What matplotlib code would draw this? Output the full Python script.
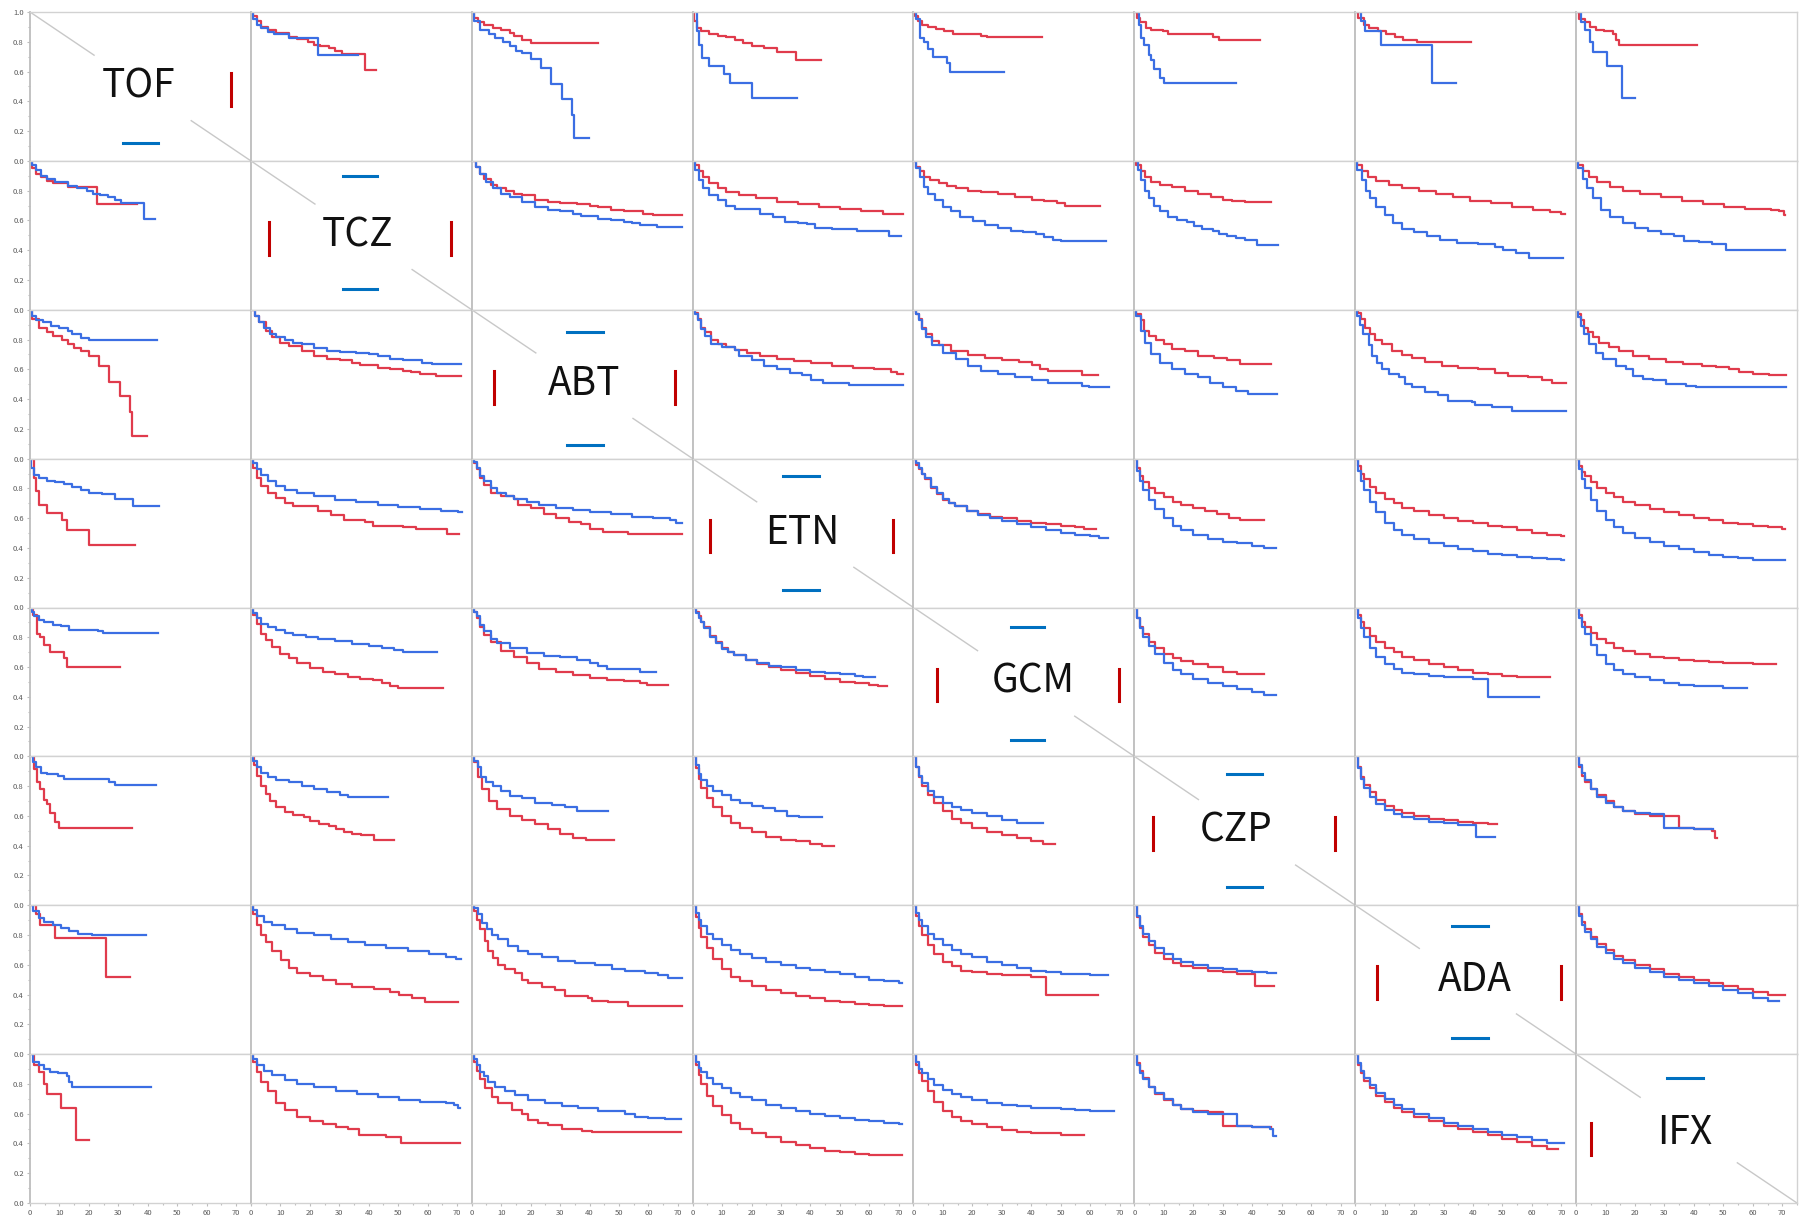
import matplotlib
matplotlib.use("Agg")
import matplotlib.pyplot as plt
from matplotlib.ticker import MultipleLocator

plt.rcParams['font.family'] = ['Noto Sans CJK JP', 'DejaVu Sans']

drugs = ["TOF", "TCZ", "ABT", "ETN", "GCM", "CZP", "ADA", "IFX"]

# Drug retention (Kaplan-Meier) for every head-to-head pair.
# <a>_<b>_t / <a>_<b>_s : months and retention of drug a in the a-vs-b match.
# The last entry marks the end of follow-up.

# ---- TOF
tof_tcz_t = [0, 0.7, 2.1, 3.6, 5.7, 8.6, 12.9, 15.8, 19.3, 21.5, 23.6, 26.5, 28.7, 30.8, 38.7, 42.5]
tof_tcz_s = [1.0, 0.97, 0.94, 0.90, 0.88, 0.86, 0.83, 0.82, 0.80, 0.78, 0.77, 0.76, 0.74, 0.72, 0.61, 0.61]
tcz_tof_t = [0, 0.7, 2.1, 3.6, 5.7, 7.9, 12.9, 22.9, 36.5]
tcz_tof_s = [1.0, 0.95, 0.915, 0.89, 0.865, 0.85, 0.825, 0.71, 0.71]

tof_abt_t = [0, 0.7, 2.1, 4.3, 7.2, 10.0, 12.9, 14.3, 17.2, 20.0, 43.0]
tof_abt_s = [1.0, 0.96, 0.93, 0.915, 0.89, 0.88, 0.86, 0.84, 0.81, 0.795, 0.795]
abt_tof_t = [0, 0.7, 2.9, 5.7, 7.9, 10.7, 12.9, 15.0, 17.2, 20.1, 23.4, 26.9, 30.5, 34.1, 34.8, 39.8]
abt_tof_s = [1.0, 0.94, 0.88, 0.85, 0.825, 0.80, 0.77, 0.74, 0.725, 0.687, 0.624, 0.517, 0.418, 0.311, 0.154, 0.154]

tof_etn_t = [0, 0.4, 1.4, 2.9, 5.7, 8.6, 11.5, 14.3, 17.2, 20.1, 24.4, 28.7, 35.1, 43.7]
tof_etn_s = [1.0, 0.94, 0.89, 0.87, 0.85, 0.84, 0.83, 0.81, 0.79, 0.77, 0.76, 0.73, 0.68, 0.68]
etn_tof_t = [0, 1.4, 2.1, 3.2, 5.7, 10.7, 12.6, 20.1, 35.5]
etn_tof_s = [1.0, 0.87, 0.78, 0.69, 0.635, 0.585, 0.52, 0.42, 0.42]

tof_gcm_t = [0, 0.6, 1.5, 2.9, 4.8, 7.7, 10.5, 13.4, 23.0, 24.9, 43.5]
tof_gcm_s = [1.0, 0.97, 0.94, 0.915, 0.90, 0.885, 0.875, 0.85, 0.84, 0.83, 0.83]
gcm_tof_t = [0, 0.9, 2.3, 3.4, 4.8, 6.7, 11.5, 12.5, 30.6]
gcm_tof_s = [1.0, 0.95, 0.825, 0.80, 0.75, 0.70, 0.66, 0.60, 0.60]

tof_czp_t = [0, 1.0, 1.9, 3.8, 5.7, 9.6, 11.5, 26.8, 28.7, 42.7]
tof_czp_s = [1.0, 0.96, 0.93, 0.89, 0.88, 0.87, 0.85, 0.83, 0.81, 0.81]
czp_tof_t = [0, 1.5, 2.3, 3.4, 4.8, 5.7, 6.7, 8.6, 10.0, 34.5]
czp_tof_s = [1.0, 0.915, 0.825, 0.78, 0.71, 0.68, 0.62, 0.56, 0.52, 0.52]

tof_ada_t = [0, 1.0, 2.9, 4.8, 7.7, 10.5, 13.4, 16.3, 21.1, 39.3]
tof_ada_s = [1.0, 0.96, 0.915, 0.89, 0.87, 0.85, 0.83, 0.81, 0.80, 0.80]
ada_tof_t = [0, 1.9, 3.4, 8.6, 25.9, 34.1]
ada_tof_s = [1.0, 0.94, 0.87, 0.78, 0.52, 0.52]

tof_ifx_t = [0, 1.0, 2.9, 4.8, 6.7, 9.6, 12.5, 13.4, 14.4, 41.2]
tof_ifx_s = [1.0, 0.95, 0.93, 0.90, 0.88, 0.87, 0.85, 0.81, 0.78, 0.78]
ifx_tof_t = [0, 1.5, 2.9, 4.8, 5.7, 10.5, 15.7, 20.1]
ifx_tof_s = [1.0, 0.93, 0.88, 0.80, 0.73, 0.635, 0.42, 0.42]

# ---- TCZ
tcz_abt_t = [0, 1.4, 2.9, 4.3, 6.4, 8.6, 11.5, 14.3, 17.2, 21.5, 25.8, 30.1, 35.8, 40.1, 43.0, 47.3, 51.6, 58.0, 61.6, 71.3]
tcz_abt_s = [1.0, 0.96, 0.915, 0.88, 0.84, 0.815, 0.80, 0.78, 0.77, 0.74, 0.725, 0.715, 0.71, 0.70, 0.69, 0.67, 0.66, 0.64, 0.635, 0.635]
abt_tcz_t = [0, 1.4, 2.9, 5.0, 7.2, 10.0, 12.9, 17.2, 21.5, 25.8, 30.1, 34.4, 37.2, 43.0, 47.3, 51.6, 54.4, 57.3, 63.0, 71.3]
abt_tcz_s = [1.0, 0.96, 0.915, 0.86, 0.815, 0.78, 0.755, 0.725, 0.69, 0.67, 0.66, 0.645, 0.63, 0.61, 0.60, 0.59, 0.58, 0.57, 0.557, 0.557]

tcz_etn_t = [0, 0.7, 2.1, 3.6, 5.7, 8.6, 11.5, 15.8, 21.5, 28.7, 35.8, 43.0, 50.1, 57.3, 64.5, 70.2, 71.6]
tcz_etn_s = [1.0, 0.97, 0.93, 0.89, 0.85, 0.815, 0.79, 0.77, 0.75, 0.725, 0.71, 0.69, 0.675, 0.66, 0.645, 0.64, 0.64]
etn_tcz_t = [0, 0.7, 2.1, 3.6, 5.7, 8.6, 11.5, 14.3, 22.9, 27.2, 31.5, 35.8, 38.7, 41.5, 47.3, 51.6, 55.9, 66.6, 70.6]
etn_tcz_s = [1.0, 0.94, 0.87, 0.815, 0.77, 0.735, 0.70, 0.68, 0.645, 0.62, 0.59, 0.585, 0.575, 0.55, 0.545, 0.54, 0.53, 0.495, 0.495]

tcz_gcm_t = [0, 0.7, 2.1, 3.6, 5.7, 8.6, 11.5, 14.3, 18.6, 22.9, 28.7, 34.4, 40.1, 44.4, 48.7, 51.6, 63.3]
tcz_gcm_s = [1.0, 0.96, 0.93, 0.89, 0.87, 0.85, 0.83, 0.815, 0.80, 0.79, 0.775, 0.755, 0.74, 0.73, 0.715, 0.70, 0.70]
gcm_tcz_t = [0, 0.7, 2.1, 3.6, 5.0, 7.2, 10.0, 12.9, 15.8, 20.1, 24.4, 28.7, 33.0, 37.2, 41.5, 44.4, 47.3, 50.1, 65.2]
gcm_tcz_s = [1.0, 0.95, 0.89, 0.825, 0.78, 0.735, 0.69, 0.66, 0.625, 0.595, 0.57, 0.55, 0.53, 0.52, 0.51, 0.49, 0.47, 0.46, 0.46]

tcz_czp_t = [0, 0.7, 2.2, 3.6, 5.8, 8.6, 12.9, 17.3, 21.6, 25.9, 30.2, 33.1, 37.4, 46.4]
tcz_czp_s = [1.0, 0.97, 0.93, 0.89, 0.86, 0.84, 0.825, 0.80, 0.78, 0.76, 0.74, 0.73, 0.725, 0.725]
czp_tcz_t = [0, 1.2, 2.2, 3.6, 5.0, 6.5, 8.6, 11.5, 14.4, 18.0, 20.1, 23.0, 26.6, 28.8, 31.6, 34.5, 37.4, 41.7, 48.6]
czp_tcz_s = [1.0, 0.94, 0.87, 0.80, 0.75, 0.70, 0.66, 0.625, 0.605, 0.59, 0.565, 0.545, 0.53, 0.51, 0.495, 0.48, 0.47, 0.435, 0.435]

tcz_ada_t = [0, 0.7, 2.2, 4.3, 7.2, 11.5, 15.8, 21.6, 27.3, 33.1, 38.8, 46.0, 53.2, 60.4, 66.1, 69.7, 71.2]
tcz_ada_s = [1.0, 0.97, 0.93, 0.89, 0.865, 0.84, 0.815, 0.80, 0.775, 0.755, 0.73, 0.715, 0.69, 0.67, 0.655, 0.64, 0.64]
ada_tcz_t = [0, 0.7, 2.2, 3.6, 5.0, 7.2, 10.1, 12.9, 15.8, 20.1, 24.4, 28.8, 34.5, 41.7, 47.4, 50.3, 54.6, 59.0, 70.5]
ada_tcz_s = [1.0, 0.94, 0.87, 0.80, 0.75, 0.69, 0.635, 0.58, 0.545, 0.525, 0.495, 0.47, 0.45, 0.44, 0.42, 0.40, 0.38, 0.35, 0.35]

tcz_ifx_t = [0, 0.7, 2.2, 4.3, 7.2, 11.5, 15.8, 21.6, 28.8, 35.9, 43.1, 50.3, 57.5, 66.1, 69.0, 70.5, 70.9]
tcz_ifx_s = [1.0, 0.97, 0.93, 0.89, 0.86, 0.825, 0.80, 0.78, 0.755, 0.73, 0.71, 0.69, 0.68, 0.67, 0.66, 0.635, 0.635]
ifx_tcz_t = [0, 0.7, 2.2, 3.6, 5.8, 8.6, 11.5, 15.8, 20.1, 24.4, 28.8, 33.1, 36.7, 41.7, 46.0, 51.0, 70.9]
ifx_tcz_s = [1.0, 0.95, 0.88, 0.815, 0.75, 0.67, 0.625, 0.58, 0.55, 0.53, 0.51, 0.495, 0.46, 0.455, 0.44, 0.40, 0.40]

# ---- ABT
abt_etn_t = [0, 0.7, 1.7, 2.9, 4.3, 6.4, 8.6, 11.5, 14.3, 18.6, 22.9, 28.7, 34.4, 40.1, 47.3, 54.4, 61.6, 67.3, 69.5, 71.3]
abt_etn_s = [1.0, 0.98, 0.94, 0.88, 0.85, 0.80, 0.77, 0.75, 0.73, 0.71, 0.69, 0.67, 0.655, 0.64, 0.625, 0.61, 0.60, 0.585, 0.57, 0.57]
etn_abt_t = [0, 0.7, 1.7, 2.9, 4.3, 6.4, 10.0, 14.3, 15.8, 20.1, 24.4, 28.7, 33.0, 37.2, 40.1, 44.4, 53.0, 71.3]
etn_abt_s = [1.0, 0.97, 0.93, 0.87, 0.825, 0.77, 0.75, 0.73, 0.69, 0.665, 0.625, 0.60, 0.575, 0.56, 0.53, 0.51, 0.495, 0.495]

abt_gcm_t = [0, 0.7, 1.7, 2.9, 4.3, 6.4, 8.6, 12.9, 18.6, 24.4, 30.1, 35.8, 40.1, 43.0, 45.8, 57.3, 62.6]
abt_gcm_s = [1.0, 0.97, 0.94, 0.88, 0.84, 0.79, 0.76, 0.725, 0.695, 0.675, 0.665, 0.65, 0.63, 0.605, 0.59, 0.565, 0.565]
gcm_abt_t = [0, 0.7, 1.7, 2.9, 4.3, 6.4, 10.0, 14.3, 18.6, 22.9, 28.7, 34.4, 40.1, 45.8, 51.6, 57.3, 59.5, 66.5]
gcm_abt_s = [1.0, 0.97, 0.93, 0.87, 0.815, 0.765, 0.71, 0.67, 0.625, 0.59, 0.57, 0.545, 0.525, 0.51, 0.505, 0.49, 0.48, 0.48]

abt_czp_t = [0, 0.7, 2.1, 3.2, 5.0, 7.2, 10.0, 12.9, 17.2, 21.5, 27.2, 31.5, 35.8, 46.3]
abt_czp_s = [1.0, 0.97, 0.93, 0.86, 0.825, 0.80, 0.77, 0.735, 0.72, 0.69, 0.675, 0.66, 0.635, 0.635]
czp_abt_t = [0, 0.7, 2.1, 3.6, 5.7, 8.6, 12.9, 17.2, 21.5, 25.8, 30.1, 34.4, 38.7, 48.4]
czp_abt_s = [1.0, 0.96, 0.86, 0.78, 0.70, 0.645, 0.60, 0.57, 0.545, 0.51, 0.48, 0.455, 0.435, 0.435]

abt_ada_t = [0, 0.9, 2.0, 3.4, 5.1, 6.8, 9.0, 12.4, 15.8, 19.2, 23.7, 29.4, 35.0, 41.8, 47.5, 52.0, 58.8, 63.3, 66.7, 71.5]
abt_ada_s = [1.0, 0.98, 0.94, 0.88, 0.84, 0.80, 0.77, 0.725, 0.695, 0.675, 0.65, 0.625, 0.61, 0.60, 0.575, 0.557, 0.545, 0.53, 0.51, 0.51]
ada_abt_t = [0, 0.6, 1.7, 2.8, 4.5, 5.6, 7.3, 9.0, 11.3, 14.7, 17.0, 19.2, 23.7, 28.2, 31.6, 39.5, 40.7, 46.3, 53.1, 71.5]
ada_abt_s = [1.0, 0.96, 0.90, 0.84, 0.76, 0.69, 0.645, 0.60, 0.57, 0.545, 0.50, 0.48, 0.45, 0.43, 0.39, 0.38, 0.36, 0.35, 0.32, 0.32]

abt_ifx_t = [0, 0.6, 1.7, 2.8, 4.0, 5.6, 7.9, 11.3, 14.7, 19.2, 24.9, 30.5, 36.2, 42.9, 47.5, 52.0, 55.4, 59.9, 65.5, 71.2]
abt_ifx_s = [1.0, 0.97, 0.93, 0.88, 0.85, 0.815, 0.78, 0.75, 0.725, 0.69, 0.67, 0.65, 0.635, 0.62, 0.615, 0.60, 0.58, 0.57, 0.565, 0.565]
ifx_abt_t = [0, 0.6, 1.7, 2.8, 4.5, 6.8, 9.0, 13.6, 17.0, 19.2, 22.6, 26.0, 30.5, 37.3, 40.7, 71.2]
ifx_abt_s = [1.0, 0.95, 0.89, 0.835, 0.77, 0.71, 0.67, 0.625, 0.60, 0.557, 0.535, 0.525, 0.50, 0.485, 0.48, 0.48]

# ---- ETN
etn_gcm_t = [0, 1, 2, 3, 4, 6, 8, 10, 12, 14, 18, 22, 26, 30, 35, 40, 45, 50, 55, 58, 62]
etn_gcm_s = [1.0, 0.96, 0.93, 0.90, 0.86, 0.80, 0.76, 0.72, 0.70, 0.68, 0.65, 0.63, 0.61, 0.60, 0.58, 0.57, 0.56, 0.55, 0.54, 0.53, 0.53]
gcm_etn_t = [0, 1, 2, 3, 4, 6, 8, 10, 12, 14, 18, 22, 26, 30, 35, 40, 45, 50, 55, 60, 63, 66]
gcm_etn_s = [1.0, 0.97, 0.94, 0.90, 0.87, 0.81, 0.77, 0.73, 0.70, 0.68, 0.65, 0.62, 0.60, 0.58, 0.56, 0.54, 0.52, 0.50, 0.49, 0.48, 0.47, 0.47]

etn_czp_t = [0, 1, 2, 3, 5, 7, 10, 13, 16, 20, 24, 28, 32, 36, 44]
etn_czp_s = [1.0, 0.94, 0.88, 0.84, 0.80, 0.77, 0.74, 0.71, 0.69, 0.67, 0.65, 0.63, 0.60, 0.59, 0.59]
czp_etn_t = [0, 1, 2, 3, 5, 7, 10, 13, 16, 20, 25, 30, 35, 40, 44, 48]
czp_etn_s = [1.0, 0.92, 0.85, 0.79, 0.72, 0.66, 0.60, 0.55, 0.52, 0.49, 0.46, 0.44, 0.43, 0.41, 0.40, 0.40]

etn_ada_t = [0, 1, 2, 3, 5, 7, 10, 13, 16, 20, 25, 30, 35, 40, 45, 50, 55, 60, 65, 70, 71]
etn_ada_s = [1.0, 0.95, 0.90, 0.86, 0.81, 0.77, 0.73, 0.70, 0.67, 0.645, 0.62, 0.60, 0.58, 0.565, 0.55, 0.54, 0.52, 0.50, 0.49, 0.48, 0.48]
ada_etn_t = [0, 1, 2, 3, 5, 7, 10, 13, 16, 20, 25, 30, 35, 40, 45, 50, 55, 60, 65, 70, 71]
ada_etn_s = [1.0, 0.92, 0.85, 0.79, 0.71, 0.64, 0.57, 0.52, 0.49, 0.46, 0.43, 0.41, 0.39, 0.38, 0.36, 0.35, 0.34, 0.33, 0.325, 0.32, 0.32]

etn_ifx_t = [0, 1, 2, 3, 5, 7, 10, 13, 16, 20, 25, 30, 35, 40, 45, 50, 55, 60, 65, 70, 71]
etn_ifx_s = [1.0, 0.95, 0.91, 0.88, 0.84, 0.80, 0.77, 0.74, 0.71, 0.69, 0.66, 0.64, 0.62, 0.60, 0.585, 0.57, 0.56, 0.55, 0.54, 0.53, 0.53]
ifx_etn_t = [0, 1, 2, 3, 5, 7, 10, 13, 16, 20, 25, 30, 35, 40, 45, 50, 55, 60, 71]
ifx_etn_s = [1.0, 0.93, 0.86, 0.80, 0.72, 0.65, 0.59, 0.54, 0.50, 0.47, 0.44, 0.41, 0.39, 0.37, 0.35, 0.34, 0.33, 0.32, 0.32]

# ---- GCM
gcm_czp_t = [0, 1, 2, 3, 5, 7, 10, 13, 16, 20, 25, 30, 35, 44]
gcm_czp_s = [1.0, 0.93, 0.87, 0.82, 0.77, 0.73, 0.69, 0.66, 0.64, 0.62, 0.60, 0.57, 0.55, 0.55]
czp_gcm_t = [0, 1, 2, 3, 5, 7, 10, 13, 16, 20, 25, 30, 35, 40, 44, 48]
czp_gcm_s = [1.0, 0.93, 0.86, 0.80, 0.74, 0.69, 0.63, 0.58, 0.55, 0.52, 0.49, 0.47, 0.45, 0.43, 0.41, 0.41]

gcm_ada_t = [0, 1, 2, 3, 5, 7, 10, 13, 16, 20, 25, 30, 35, 40, 45, 50, 55, 60, 66]
gcm_ada_s = [1.0, 0.95, 0.90, 0.86, 0.81, 0.77, 0.73, 0.70, 0.67, 0.65, 0.62, 0.60, 0.58, 0.56, 0.55, 0.54, 0.535, 0.53, 0.53]
ada_gcm_t = [0, 1, 2, 3, 5, 7, 10, 13, 16, 20, 25, 30, 40, 45, 62.5]
ada_gcm_s = [1.0, 0.93, 0.86, 0.80, 0.73, 0.67, 0.62, 0.59, 0.56, 0.55, 0.54, 0.53, 0.52, 0.40, 0.40]

gcm_ifx_t = [0, 1, 2, 3, 5, 7, 10, 13, 16, 20, 25, 30, 35, 40, 45, 50, 55, 60, 68]
gcm_ifx_s = [1.0, 0.95, 0.90, 0.87, 0.83, 0.79, 0.76, 0.73, 0.71, 0.69, 0.67, 0.66, 0.65, 0.64, 0.635, 0.63, 0.625, 0.62, 0.62]
ifx_gcm_t = [0, 1, 2, 3, 5, 7, 10, 13, 16, 20, 25, 30, 35, 40, 50, 58]
ifx_gcm_s = [1.0, 0.93, 0.87, 0.82, 0.75, 0.68, 0.62, 0.58, 0.55, 0.53, 0.51, 0.49, 0.48, 0.47, 0.46, 0.46]

# ---- CZP
czp_ada_t = [0, 1, 2, 3, 5, 7, 10, 13, 16, 20, 25, 30, 35, 40, 45, 48]
czp_ada_s = [1.0, 0.93, 0.86, 0.81, 0.76, 0.71, 0.67, 0.64, 0.62, 0.60, 0.58, 0.57, 0.56, 0.55, 0.545, 0.545]
ada_czp_t = [0, 1, 2, 3, 5, 7, 10, 13, 16, 20, 25, 30, 35, 41, 47.5]
ada_czp_s = [1.0, 0.92, 0.85, 0.79, 0.73, 0.68, 0.64, 0.61, 0.59, 0.58, 0.56, 0.55, 0.54, 0.46, 0.46]

czp_ifx_t = [0, 1, 2, 3, 5, 7, 10, 13, 16, 20, 25, 35, 40, 46, 47, 48]
czp_ifx_s = [1.0, 0.93, 0.87, 0.83, 0.78, 0.74, 0.70, 0.66, 0.63, 0.61, 0.60, 0.52, 0.51, 0.50, 0.45, 0.45]
ifx_czp_t = [0, 1, 2, 3, 5, 7, 10, 13, 16, 20, 25, 30, 40, 46.5]
ifx_czp_s = [1.0, 0.94, 0.89, 0.84, 0.78, 0.73, 0.69, 0.66, 0.63, 0.62, 0.61, 0.52, 0.51, 0.51]

# ---- ADA
ada_ifx_t = [0, 1, 2, 3, 5, 7, 10, 13, 16, 20, 25, 30, 35, 40, 45, 50, 55, 60, 65, 71]
ada_ifx_s = [1.0, 0.94, 0.89, 0.84, 0.79, 0.74, 0.70, 0.66, 0.63, 0.60, 0.57, 0.54, 0.52, 0.50, 0.48, 0.46, 0.44, 0.42, 0.40, 0.40]
ifx_ada_t = [0, 1, 2, 3, 5, 7, 10, 13, 16, 20, 25, 30, 35, 40, 45, 50, 55, 60, 65, 69]
ifx_ada_s = [1.0, 0.93, 0.87, 0.82, 0.77, 0.72, 0.68, 0.64, 0.61, 0.58, 0.55, 0.52, 0.50, 0.48, 0.46, 0.43, 0.41, 0.38, 0.36, 0.36]


def curve(a, b):
    g = globals()
    key = f"{a.lower()}_{b.lower()}"
    return g[key + "_t"], g[key + "_s"]


# label and key-mark placement inside the diagonal cells (axes fraction)
label_x = [0.49, 0.485, 0.51, 0.495, 0.54, 0.46, 0.54, 0.49]
label_y = [0.50, 0.50, 0.50, 0.50, 0.50, 0.50, 0.50, 0.47]
red_left = [None, 0.08, 0.10, 0.08, 0.108, 0.083, 0.099, 0.068]
red_right = [0.91, 0.905, 0.92, 0.905, 0.93, 0.91, 0.93, None]
blue_top = [None, 0.90, 0.85, 0.88, 0.87, 0.88, 0.86, 0.84]
blue_bottom = [0.12, 0.14, 0.09, 0.12, 0.11, 0.12, 0.11, None]
blue_span = [(0.42, 0.58), (0.415, 0.57), (0.43, 0.595), (0.41, 0.57),
             (0.44, 0.59), (0.42, 0.58), (0.44, 0.60), (0.41, 0.575)]

RED = '#e03b4c'
BLUE = '#3b6ee3'
GRID = '#d2d2d2'
n = len(drugs)

fig, axes = plt.subplots(n, n, figsize=(18.06, 12.15), dpi=100)
plt.subplots_adjust(left=30/1806, right=1797/1806, top=1-12/1215, bottom=1-1203/1215,
                    wspace=0, hspace=0)

for r in range(n):
    for c in range(n):
        ax = axes[r, c]
        ax.set_xlim(0, 75)
        ax.set_ylim(0, 1)
        for side, sp in ax.spines.items():
            sp.set_color('#bdbdbd' if side == 'left' else GRID)
            sp.set_linewidth(1.3 if side == 'left' else 1.0)

        # ticks only along the outer edges
        if c == 0:
            ax.set_yticks([0, 0.2, 0.4, 0.6, 0.8, 1.0] if r == 0 else [0, 0.2, 0.4, 0.6, 0.8])
            ax.yaxis.set_minor_locator(MultipleLocator(0.1))
            ax.set_yticklabels([f"{v:.1f}" for v in ax.get_yticks()])
        else:
            ax.set_yticks([])
        if r == n - 1:
            ax.set_xticks(range(0, 80, 10))
            ax.xaxis.set_minor_locator(MultipleLocator(5))
        else:
            ax.set_xticks([])
        ax.tick_params(which='both', labelsize=5.5, labelcolor='#595959', color='#bdbdbd',
                       length=2.5, width=0.8, pad=2)
        ax.tick_params(which='minor', length=1.5)

        if r == c:
            ax.plot([0, 0.29], [1, 0.71], transform=ax.transAxes, color='#c8c8c8', lw=1)
            ax.plot([0.73, 1], [0.27, 0], transform=ax.transAxes, color='#c8c8c8', lw=1)
            ax.text(label_x[r], label_y[r], drugs[r], transform=ax.transAxes,
                    ha='center', va='center', fontsize=28, color='#111111')
            ry = (0.32, 0.54) if r == n - 1 else (0.37, 0.59)
            for xv in (red_left[r], red_right[r]):
                if xv is not None:
                    ax.plot([xv, xv], ry, transform=ax.transAxes, color='#c00000', lw=2.2)
            for yv in (blue_top[r], blue_bottom[r]):
                if yv is not None:
                    ax.plot(blue_span[r], [yv, yv], transform=ax.transAxes, color='#0070c0', lw=2.2)
            continue

        # red: row drug, blue: column drug
        t, s = curve(drugs[r], drugs[c])
        ax.step(t, s, where='post', color=RED, lw=1.6)
        t, s = curve(drugs[c], drugs[r])
        ax.step(t, s, where='post', color=BLUE, lw=1.6)

fig.savefig("out.png", dpi=100)
